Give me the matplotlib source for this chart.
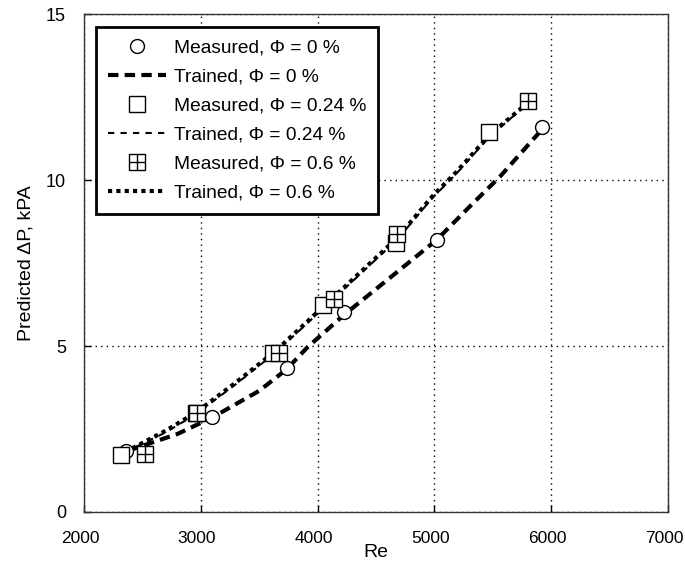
import matplotlib.pyplot as plt
import matplotlib.transforms as mtransforms
from matplotlib.lines import Line2D

plt.rcParams['font.family'] = ['Liberation Sans', 'DejaVu Sans']

# measured points
re_m0 = [2360, 3100, 3735, 4230, 5020, 5925]
dp_m0 = [1.85, 2.86, 4.34, 6.02, 8.19, 11.6]
re_m24 = [2316, 2957, 3615, 4050, 4675, 5470]
dp_m24 = [1.72, 2.98, 4.79, 6.23, 8.10, 11.45]
re_m60 = [2521, 2966, 3667, 4137, 4684, 5803]
dp_m60 = [1.75, 2.97, 4.79, 6.41, 8.37, 12.38]

# trained curves
re_t0 = [2380, 2800, 3100, 3500, 3735, 3915, 4230, 4600, 5020, 5330, 5560, 5940]
dp_t0 = [1.85, 2.35, 2.85, 3.65, 4.3, 4.97, 5.95, 7.0, 8.2, 9.3, 10.1, 11.6]
re_t24 = [2350, 2700, 2960, 3300, 3640, 4100, 4680, 4980, 5190, 5470, 5830]
dp_t24 = [1.8, 2.4, 2.95, 3.85, 4.8, 6.3, 8.2, 9.45, 10.2, 11.3, 12.4]
re_t60 = [2350, 2700, 2960, 3300, 3640, 4100, 4680, 4980, 5190, 5470, 5830]
dp_t60 = [1.8, 2.45, 3.0, 3.9, 4.85, 6.35, 8.25, 9.5, 10.25, 11.35, 12.42]

fig = plt.figure(figsize=(6.85, 5.69), dpi=100)
ax = fig.add_axes([0.1226, 0.1002, 0.8526, 0.875])

ax.plot(re_t0, dp_t0, color='black', lw=3, ls=(0, (2.5, 1.5)), zorder=3)
ax.plot(re_t24, dp_t24, color='black', lw=1.5, ls=(0, (3, 3)), zorder=3)
ax.plot(re_t60, dp_t60, color='black', lw=3, ls=(0, (1, 1)), zorder=3)

ax.plot(re_m0, dp_m0, 'o', ms=10, mfc='white', mec='black', mew=1, zorder=4)
ax.plot(re_m24, dp_m24, 's', ms=11, mfc='white', mec='black', mew=1, zorder=4)
ax.plot(re_m60, dp_m60, 's', ms=11, mfc='white', mec='black', mew=1, zorder=5)
ax.plot(re_m60, dp_m60, '+', ms=11, mec='black', mew=1, zorder=6)

ax.set_xlim(2000, 7000)
ax.set_ylim(0, 15)
ax.set_xticks([2000, 3000, 4000, 5000, 6000, 7000])
ax.set_yticks([0, 5, 10, 15])
ax.grid(True, color='black', ls=(0, (1, 3)), lw=1)
ax.tick_params(direction='in', length=5, width=1, labelsize=13)
ax.tick_params(axis='x', pad=14, labelsize=12.5)
ax.tick_params(axis='y', pad=13)
for s in ax.spines.values():
    s.set_linewidth(1)
    s.set_color('#333333')

# x labels sit a few pixels left of their ticks
shift = mtransforms.ScaledTranslation(-4 / 100, 0, fig.dpi_scale_trans)
for lbl in ax.get_xticklabels():
    lbl.set_transform(lbl.get_transform() + shift)

ax.set_xlabel('Re', fontsize=14, labelpad=-2)
ax.set_ylabel('Predicted ΔP, kPA', fontsize=14, labelpad=8)

handles = [
    Line2D([], [], marker='o', ls='none', ms=10, mfc='white', mec='black'),
    Line2D([], [], color='black', lw=3, ls=(0, (2.5, 1.5))),
    Line2D([], [], marker='s', ls='none', ms=11, mfc='white', mec='black'),
    Line2D([], [], color='black', lw=1.5, ls=(0, (3, 3))),
    (Line2D([], [], marker='s', ls='none', ms=11, mfc='white', mec='black'),
     Line2D([], [], marker='+', ls='none', ms=11, mec='black')),
    Line2D([], [], color='black', lw=3, ls=(0, (1, 1))),
]
labels = ['Measured, Φ = 0 %', 'Trained, Φ = 0 %', 'Measured, Φ = 0.24 %',
          'Trained, Φ = 0.24 %', 'Measured, Φ = 0.6 %', 'Trained, Φ = 0.6 %']
leg = ax.legend(handles, labels, loc='upper left', bbox_to_anchor=(0.0205, 0.974),
                borderaxespad=0, fontsize=13.8, handlelength=3.0, handletextpad=0.4,
                labelspacing=0.6, fancybox=False, edgecolor='black',
                framealpha=1, borderpad=0.65)
leg.get_frame().set_linewidth(2)
leg.set_zorder(10)

fig.savefig('out.png', dpi=100)
